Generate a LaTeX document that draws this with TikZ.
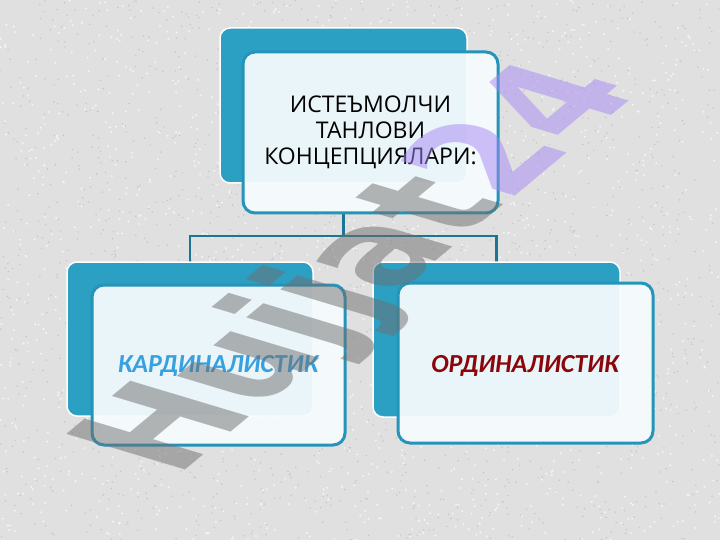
\documentclass[tikz,border=0pt]{standalone}
\usepackage{fontspec}
\setmainfont{Open Sans}
\newfontfamily\lblfont{Carlito}
\newfontfamily\wmfont{DejaVu Sans}
\definecolor{bgc}{RGB}{224,224,224}
\definecolor{speckw}{RGB}{245,245,245}
\definecolor{speckd}{RGB}{196,196,196}
\definecolor{backc}{RGB}{44,160,195}
\definecolor{bordc}{RGB}{36,148,186}
\definecolor{linkc}{RGB}{26,118,148}
\definecolor{frontc}{RGB}{246,251,253}
\definecolor{bluet}{RGB}{56,160,222}
\definecolor{redt}{RGB}{138,6,10}
\definecolor{wmgray}{RGB}{110,110,110}
\definecolor{wmpurple}{RGB}{165,135,245}
\begin{document}
\begin{tikzpicture}[x=1pt,y=-1pt,
  backbox/.style={draw=white, line width=1.5pt, fill=backc, rounded corners=10pt, inner sep=0pt},
  frontbox/.style={draw=bordc, line width=3pt, fill=frontc, fill opacity=0.94, rounded corners=12pt, inner sep=0pt},
  link/.style={draw=linkc, line width=2.6pt},
  toptext/.style={align=center, font=\fontsize{23}{26}\selectfont, inner sep=0pt},
  lbl/.style={font=\lblfont\bfseries\itshape\fontsize{26}{30}\selectfont, anchor=base, inner sep=0pt},
]
\useasboundingbox (0,0) rectangle (720,540);
\fill[bgc] (0,0) rectangle (720,540);
% granite-like speckle
\pgfmathsetseed{7}
\foreach \i in {1,...,1600}{
  \pgfmathsetmacro{\px}{rnd*720}\pgfmathsetmacro{\py}{rnd*540}
  \fill[speckw] (\px,\py) circle (1.1pt);
  \pgfmathsetmacro{\qx}{rnd*720}\pgfmathsetmacro{\qy}{rnd*540}
  \fill[speckd] (\qx,\qy) circle (0.8pt);
}

% reference nodes for connector routing
\path (343.5,105.5) node[minimum width=247pt, minimum height=155pt, inner sep=0pt] (tb) {};
\path (190,339) node[minimum width=246pt, minimum height=154pt, inner sep=0pt] (lb) {};
\path (496.5,339.5) node[minimum width=247pt, minimum height=155pt, inner sep=0pt] (rb) {};
\path (370.5,132.5) node[minimum width=255pt, minimum height=161pt, inner sep=0pt] (tf) {};
\coordinate (hub) at (343.5,236);

% connectors
\draw[link] (tb.center |- tf.south) -- (hub);
\draw[link] (lb.north) |- (hub) -| (rb.north);

% boxes
\node[backbox, minimum width=247pt, minimum height=155pt] (tbb) at (343.5,105.5) {};
\node[frontbox, minimum width=255pt, minimum height=161pt] (tfb) at (370.5,132.5) {};
\node[backbox, minimum width=246pt, minimum height=154pt] (lbb) at (190,339) {};
\node[frontbox, minimum width=253pt, minimum height=160pt] (lf) at (218.5,365) {};
\node[backbox, minimum width=247pt, minimum height=155pt] (rbb) at (496.5,339.5) {};
\node[frontbox, minimum width=255pt, minimum height=160pt] (rf) at (525.5,363) {};

% texts
\node[toptext] (tt) at (370.5,132.5) {ИСТЕЪМОЛЧИ\\ТАНЛОВИ\\КОНЦЕПЦИЯЛАРИ:};
\node[lbl, text=bluet] (lt) at (218,372) {КАРДИНАЛИСТИК};
\node[lbl, text=redt] (rt) at (525,372) {ОРДИНАЛИСТИК};

% watermark
\begin{scope}[shift={(176,478)}, xscale=2, rotate=59, transform shape]
\node[anchor=base west, inner sep=0pt, text opacity=0.5, font=\wmfont\bfseries\fontsize{95}{95}\selectfont] (wm) at (0,0) {\textcolor{wmgray}{Hujjat}\textcolor{wmpurple}{24}};
\end{scope}
\end{tikzpicture}
\end{document}
